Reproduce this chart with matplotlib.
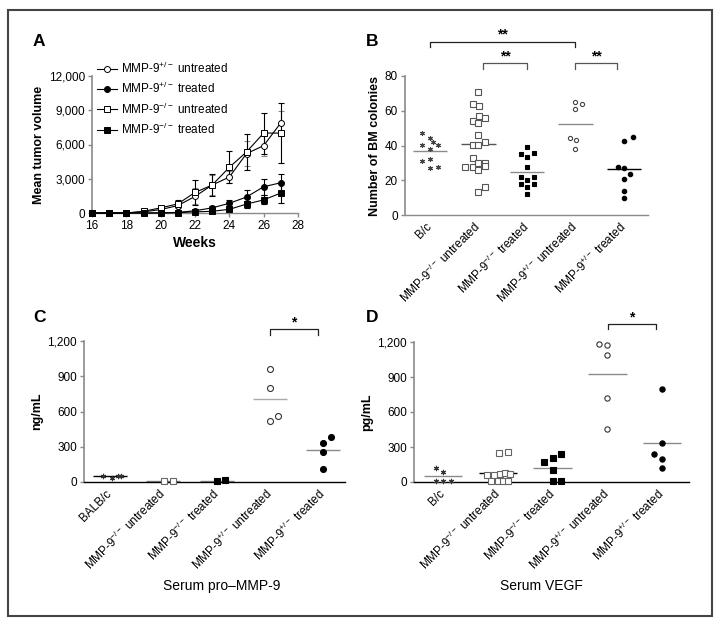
import numpy as np
import matplotlib
matplotlib.use("Agg")
import matplotlib.pyplot as plt
from matplotlib.patches import Rectangle

plt.rcParams['font.family'] = ['Liberation Sans', 'DejaVu Sans']
plt.rcParams['mathtext.fontset'] = 'custom'
plt.rcParams['mathtext.rm'] = 'Liberation Sans'
plt.rcParams['mathtext.it'] = 'Liberation Sans:italic'
plt.rcParams['mathtext.bf'] = 'Liberation Sans:bold'

# ---------------- Panel A data ----------------
weeks = [16, 17, 18, 19, 20, 21, 22, 23, 24, 25, 26, 27]
het_untr = [0, 0, 0, 100, 300, 650, 1450, 2450, 3150, 5200, 5900, 7900]
het_untr_err = [0, 0, 0, 50, 100, 250, 700, 900, 500, 1100, 900, 1000]
het_tr = [0, 0, 0, 0, 20, 50, 200, 450, 850, 1400, 2300, 2650]
het_tr_err = [0, 0, 0, 0, 20, 50, 100, 150, 250, 600, 700, 800]
ko_untr = [0, 0, 0, 150, 450, 800, 1800, 2450, 4000, 5350, 7000, 7000]
ko_untr_err = [0, 0, 0, 50, 150, 300, 1100, 1000, 1400, 1550, 1800, 2600]
ko_tr = [0, 0, 0, 0, 0, 30, 100, 150, 320, 780, 1150, 1750]
ko_tr_err = [0, 0, 0, 0, 0, 20, 50, 80, 100, 300, 400, 900]
a_yticks = [0, 3000, 6000, 9000, 12000]
a_yticklabels = ['0', '3,000', '6,000', '9,000', '12,000']
a_xticks = [16, 18, 20, 22, 24, 26, 28]
legend_labels = ['MMP-9$^{+/-}$ untreated', 'MMP-9$^{+/-}$ treated',
                 'MMP-9$^{-/-}$ untreated', 'MMP-9$^{-/-}$ treated']

# ---------------- Panel B data ----------------
b_cats = ['B/c', 'MMP-9$^{-/-}$ untreated', 'MMP-9$^{-/-}$ treated',
          'MMP-9$^{+/-}$ untreated', 'MMP-9$^{+/-}$ treated']
b_bc = [47.0, 44.1, 42.2, 40.3, 40.3, 38.0, 31.3, 32.0, 26.9, 27.8]
b_bc_dx = [-0.17, 0.0, 0.07, -0.17, 0.17, 0.0, -0.17, 0.0, 0.0, 0.17]
b_ko_untr = [70.8, 64.1, 63.0, 56.9, 56.1, 54.2, 52.7, 46.0, 40.3, 40.3,
             41.8, 33.0, 27.9, 27.9, 26.0, 29.8, 30.2, 28.2, 16.0, 13.0]
b_ko_untr_dx = [0, -0.11, 0.01, 0.01, 0.14, -0.11, 0, 0, -0.11, 0,
                0.14, -0.11, -0.11, -0.28, 0, 0, 0.14, 0.14, 0.14, 0]
b_ko_tr = [39.0, 34.9, 35.5, 33.2, 27.8, 22.1, 22.1, 20.1, 17.8, 17.8, 15.9, 11.9]
b_ko_tr_dx = [0, -0.13, 0.14, 0, 0, -0.13, 0.14, 0, -0.13, 0.14, 0, 0]
b_het_untr = [65.1, 64.1, 60.9, 44.1, 43.1, 38.0]
b_het_untr_dx = [0, 0.14, 0, -0.12, 0.01, 0]
b_het_tr = [45.0, 42.7, 27.9, 26.9, 23.7, 20.8, 13.9, 9.7]
b_het_tr_dx = [0.19, 0, -0.125, 0, 0.12, 0, 0, 0]

# ---------------- Panel C data ----------------
c_cats = ['BALB/c', 'MMP-9$^{-/-}$ untreated', 'MMP-9$^{-/-}$ treated',
          'MMP-9$^{+/-}$ untreated', 'MMP-9$^{+/-}$ treated']
c_bc = [48, 38, 55, 50]
c_bc_dx = [-0.13, 0.03, 0.14, 0.2]
c_ko_untr = [6, 12]
c_ko_untr_dx = [0.02, 0.18]
c_ko_tr = [6, 14]
c_ko_tr_dx = [0.0, 0.16]
c_het_untr = [961, 796, 520, 560]
c_het_untr_dx = [0, 0, 0, 0.155]
c_het_tr = [384, 333, 253, 108]
c_het_tr_dx = [0.15, 0, 0, 0]

# ---------------- Panel D data ----------------
d_cats = ['B/c', 'MMP-9$^{-/-}$ untreated', 'MMP-9$^{-/-}$ treated',
          'MMP-9$^{+/-}$ untreated', 'MMP-9$^{+/-}$ treated']
d_bc = [117, 88, 11, 11, 11]
d_bc_dx = [-0.13, 0.0, -0.13, 0.0, 0.14]
d_ko_untr = [251, 260, 63, 63, 71, 80, 71, 5, 5, 5, 5]
d_ko_untr_dx = [0.02, 0.18, -0.19, -0.07, 0.04, 0.13, 0.22, -0.13, 0, 0.1, 0.19]
d_ko_tr = [171, 203, 237, 106, 5, 5]
d_ko_tr_dx = [-0.16, 0, 0.15, 0, 0, 0.15]
d_het_untr = [1186, 1177, 1086, 723, 451]
d_het_untr_dx = [-0.145, 0, 0, 0, 0]
d_het_tr = [800, 337, 237, 194, 117]
d_het_tr_dx = [0, 0, -0.15, 0, 0]
cd_yticks = [0, 300, 600, 900, 1200]
cd_yticklabels = ['0', '300', '600', '900', '1,200']

W, H = 721, 625
fig = plt.figure(figsize=(W / 100, H / 100), dpi=100)


def ax_px(l, r, t, b):
    return fig.add_axes([l / W, 1 - b / H, (r - l) / W, (b - t) / H])


GRAY = '#8a8a8a'
TICK_FS = 8.5


def style(ax, bottom_color):
    for s in ['top', 'right']:
        ax.spines[s].set_visible(False)
    ax.spines['left'].set_color(GRAY)
    ax.spines['left'].set_linewidth(1.2)
    ax.spines['bottom'].set_color(bottom_color)
    ax.spines['bottom'].set_linewidth(1.0)
    ax.tick_params(axis='y', colors=GRAY, labelcolor='black', length=3,
                   width=1, labelsize=TICK_FS, pad=2)


# ---------------- Panel A ----------------
axA = ax_px(92, 298, 76, 213)
style(axA, GRAY)
series = [
    (het_untr, het_untr_err, 'o', 'white', GRAY, 4.3),
    (het_tr, het_tr_err, 'o', 'black', 'black', 4.3),
    (ko_untr, ko_untr_err, 's', 'white', 'black', 5.0),
    (ko_tr, ko_tr_err, 's', 'black', 'black', 4.3),
]
handles = []
for (vals, err, mk, fc, ecol, ms) in series:
    axA.errorbar(weeks, vals, yerr=err, fmt='none', ecolor=ecol,
                 elinewidth=0.8, capsize=2.5, capthick=0.8, clip_on=False, zorder=2)
    h, = axA.plot(weeks, vals, marker=mk, color='black', lw=0.8,
                  markerfacecolor=fc, markeredgecolor='black',
                  markeredgewidth=0.7, markersize=ms, clip_on=False, zorder=3)
    handles.append(h)
axA.set_xlim(16, 28)
axA.set_ylim(0, 12000)
axA.set_yticks(a_yticks)
axA.set_yticklabels(a_yticklabels)
axA.set_xticks(a_xticks)
axA.tick_params(axis='x', colors=GRAY, labelcolor='black', length=3,
                width=1, labelsize=TICK_FS, pad=2)
axA.set_xlabel('Weeks', fontsize=10, fontweight='bold', labelpad=3)
axA.set_ylabel('Mean tumor volume', fontsize=9, fontweight='bold', labelpad=3)
fig.legend(handles, legend_labels, loc='upper left',
           bbox_to_anchor=(97 / W, 1 - 61 / H), frameon=False,
           fontsize=8.5, handlelength=1.7, handletextpad=0.3,
           labelspacing=0.42, borderpad=0, borderaxespad=0, numpoints=1)


def scatter_panel(ax, groups, cats, ylim, mean_half=0.35, mean_colors=None):
    for i, (vals, dx, mk, fc, ec, ms) in enumerate(groups):
        x = i + 1 + np.array(dx)
        ax.plot(x, vals, linestyle='none', marker=mk, markerfacecolor=fc,
                markeredgecolor=ec, markeredgewidth=0.8, markersize=ms,
                clip_on=False, zorder=3)
        mc = mean_colors[i] if mean_colors else GRAY
        ax.hlines(np.mean(vals), i + 1 - mean_half, i + 1 + mean_half,
                  colors=mc, lw=1.0, zorder=2)
    ax.set_xticks(range(1, len(cats) + 1))
    ax.set_xticklabels(cats, rotation=45, ha='right', va='center',
                       rotation_mode='anchor', fontsize=8.5)
    ax.tick_params(axis='x', length=0, pad=7)
    ax.set_ylim(*ylim)


def bracket(ax, x0, x1, ytop, ybot, label, color='#222', fs=10):
    ax.plot([x0, x0, x1, x1], [ybot, ytop, ytop, ybot], color=color, lw=0.9,
            clip_on=False)
    ax.text((x0 + x1) / 2, ytop, label, ha='center', va='bottom',
            fontsize=fs, fontweight='bold', clip_on=False)


STAR = (6, 2, 0)

# ---------------- Panel B ----------------
axB = ax_px(405, 648, 76, 215)
style(axB, GRAY)
groups_B = [
    (b_bc, b_bc_dx, STAR, '#444', '#444', 3.6),
    (b_ko_untr, b_ko_untr_dx, 's', 'white', '#555', 3.8),
    (b_ko_tr, b_ko_tr_dx, 's', 'black', 'black', 3.4),
    (b_het_untr, b_het_untr_dx, 'o', 'white', '#444', 3.0),
    (b_het_tr, b_het_tr_dx, 'o', 'black', 'black', 3.2),
]
scatter_panel(axB, groups_B, b_cats, (0, 80), mean_half=0.36,
              mean_colors=[GRAY, '#555', GRAY, GRAY, 'black'])
axB.set_xlim(0.485, 5.495)
axB.set_yticks([0, 20, 40, 60, 80])
axB.set_ylabel('Number of BM colonies', fontsize=9, fontweight='bold', labelpad=3)
bracket(axB, 1, 4, 99.6, 96.7, '**', color='#222')
bracket(axB, 2.1, 3.0, 87.5, 84.0, '**', color='#555')
bracket(axB, 4.0, 4.85, 87.5, 84.0, '**', color='#555')

# ---------------- Panel C ----------------
axC = ax_px(84, 345, 341, 482)
style(axC, 'black')
groups_C = [
    (c_bc, c_bc_dx, STAR, '#333', '#333', 3.8),
    (c_ko_untr, c_ko_untr_dx, 's', 'white', '#666', 4.3),
    (c_ko_tr, c_ko_tr_dx, 's', 'black', 'black', 4.3),
    (c_het_untr, c_het_untr_dx, 'o', 'white', '#333', 4.3),
    (c_het_tr, c_het_tr_dx, 'o', 'black', 'black', 4.3),
]
scatter_panel(axC, groups_C, c_cats, (0, 1200), mean_half=0.32,
              mean_colors=['black', GRAY, GRAY, '#aaa', GRAY])
axC.set_xlim(0.51, 5.41)
axC.set_yticks(cd_yticks)
axC.set_yticklabels(cd_yticklabels)
axC.set_ylabel('ng/mL', fontsize=9, fontweight='bold', labelpad=3)
bracket(axC, 4.0, 4.9, 1302, 1251, '*')

# ---------------- Panel D ----------------
axD = ax_px(414, 689, 342, 482)
style(axD, 'black')
groups_D = [
    (d_bc, d_bc_dx, STAR, '#333', '#333', 3.8),
    (d_ko_untr, d_ko_untr_dx, 's', 'white', '#666', 4.3),
    (d_ko_tr, d_ko_tr_dx, 's', 'black', 'black', 4.3),
    (d_het_untr, d_het_untr_dx, 'o', 'white', '#333', 3.8),
    (d_het_tr, d_het_tr_dx, 'o', 'black', 'black', 3.8),
]
scatter_panel(axD, groups_D, d_cats, (0, 1200), mean_half=0.35,
              mean_colors=[GRAY, 'black', GRAY, GRAY, GRAY])
axD.set_xlim(0.47, 5.49)
axD.set_yticks(cd_yticks)
axD.set_yticklabels(cd_yticklabels)
axD.set_ylabel('pg/mL', fontsize=9, fontweight='bold', labelpad=3)
bracket(axD, 4.01, 4.89, 1354, 1311, '*')

# ---------------- Figure texts ----------------
fig.text(222 / W, 1 - 586 / H, 'Serum pro\u2013MMP-9', ha='center', va='center', fontsize=10)
fig.text(541 / W, 1 - 586 / H, 'Serum VEGF', ha='center', va='center', fontsize=10)
for lab, x, y in [('A', 33, 42), ('B', 366, 42), ('C', 33, 318), ('D', 366, 318)]:
    fig.text(x / W, 1 - y / H, lab, ha='left', va='center', fontsize=12.5,
             fontweight='bold')

fig.add_artist(Rectangle((8 / W, 1 - 616 / H), (712 - 8) / W, (616 - 10) / H,
                         transform=fig.transFigure, fill=False,
                         edgecolor='#444', lw=1.5))

fig.savefig('out.png', dpi=100)
